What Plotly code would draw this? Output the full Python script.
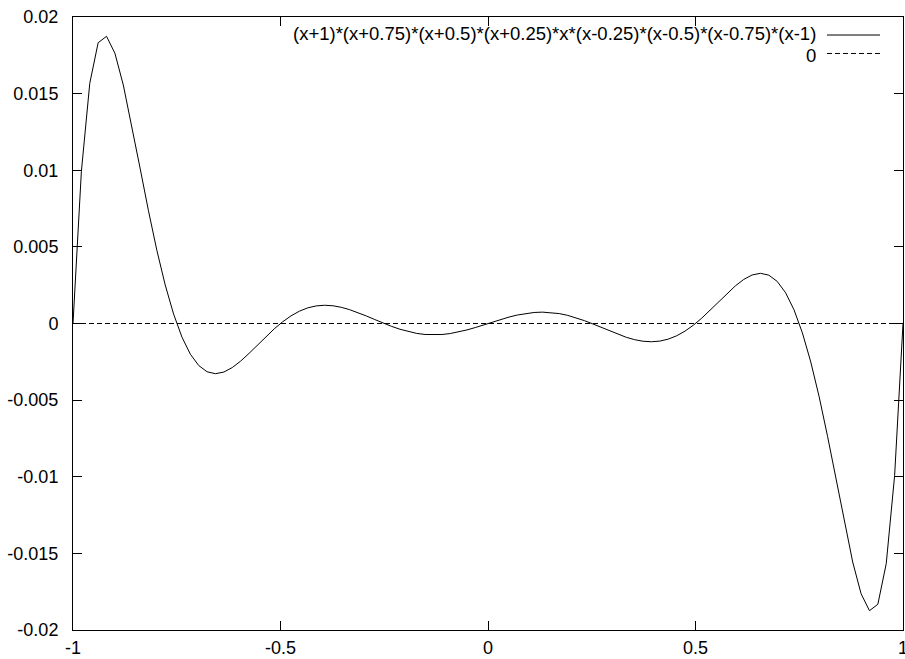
import plotly.graph_objects as go

# gnuplot default sampling: 100 samples across [-1, 1]
n_samples = 100
x_vals = [-1 + 2 * i / (n_samples - 1) for i in range(n_samples)]

# polynomial values (units: 1e-6)
y_micro = [
    0, 9926, 15675, 18321, 18739, 17634, 15562, 12955, 10142, 7362,
    4782, 2511, 611, -893, -2004, -2744, -3153, -3276, -3166, -2874,
    -2452, -1949, -1407, -864, -351, 109, 497, 803, 1020, 1148,
    1191, 1158, 1057, 903, 709, 489, 257, 28, -187, -376,
    -532, -647, -717, -741, -720, -655, -553, -418, -261, -89,
    89, 261, 418, 553, 655, 720, 741, 717, 647, 532,
    376, 187, -28, -257, -489, -709, -903, -1057, -1158, -1191,
    -1148, -1020, -803, -497, -109, 351, 864, 1407, 1949, 2452,
    2874, 3166, 3276, 3153, 2744, 2004, 893, -611, -2511, -4782,
    -7362, -10142, -12955, -15562, -17634, -18739, -18321, -15675, -9926, 0,
]
y_vals = [v * 1e-6 for v in y_micro]

zero_x = [-1, 1]
zero_y = [0, 0]

series_names = ["(x+1)*(x+0.75)*(x+0.5)*(x+0.25)*x*(x-0.25)*(x-0.5)*(x-0.75)*(x-1)", "0"]

x_tickvals = [-1, -0.5, 0, 0.5, 1]
x_ticktext = ["-1", "-0.5", "0", "0.5", "1"]
y_tickvals = [-0.02, -0.015, -0.01, -0.005, 0, 0.005, 0.01, 0.015, 0.02]
y_ticktext = ["-0.02", "-0.015", "-0.01", "-0.005", "0", "0.005", "0.01", "0.015", "0.02"]

FONT = "Liberation Sans, Arial, Helvetica, sans-serif"
DASH = "5px,3px"

fig = go.Figure()
fig.add_trace(go.Scatter(x=x_vals, y=y_vals, mode="lines", name=series_names[0],
                         line=dict(color="black", width=1), showlegend=False))
fig.add_trace(go.Scatter(x=zero_x, y=zero_y, mode="lines", name=series_names[1],
                         line=dict(color="black", width=1, dash=DASH), showlegend=False))

# gnuplot-style key: text right-aligned, line sample to the right
key_rows = [(0.9723, 0.9706, "solid"), (0.9380, 0.9405, DASH)]
for name, (ytext, yline, dash) in zip(series_names, key_rows):
    fig.add_annotation(text=name, x=0.8964, y=ytext, xref="paper", yref="paper",
                       xanchor="right", yanchor="middle", showarrow=False,
                       borderpad=0, font=dict(family=FONT, size=18.5, color="black"))
    fig.add_shape(type="line", xref="paper", yref="paper", x0=0.9084, x1=0.9723,
                  y0=yline, y1=yline, line=dict(color="black", width=1, dash=dash))

axis_common = dict(showline=True, linecolor="black", linewidth=1, mirror="ticks",
                   ticks="inside", ticklen=9, tickcolor="black", tickwidth=1,
                   showgrid=False, zeroline=False, automargin=False,
                   tickfont=dict(family=FONT, size=18, color="black"))

fig.update_xaxes(range=[-1, 1], tickvals=x_tickvals, ticktext=x_ticktext,
                 ticklabelstandoff=1, ticklabeloverflow="allow", **axis_common)
fig.update_yaxes(range=[-0.02, 0.02], tickvals=y_tickvals, ticktext=y_ticktext,
                 ticklabelstandoff=10, **axis_common)

fig.update_layout(width=905, height=659, margin=dict(l=73, r=2, t=17, b=29),
                  plot_bgcolor="white", paper_bgcolor="white",
                  font=dict(family=FONT, size=18, color="black"), showlegend=False)

fig.write_html("out.html", config={"displayModeBar": False},
               post_script="document.body.style.margin='0';document.body.style.overflow='hidden';")
